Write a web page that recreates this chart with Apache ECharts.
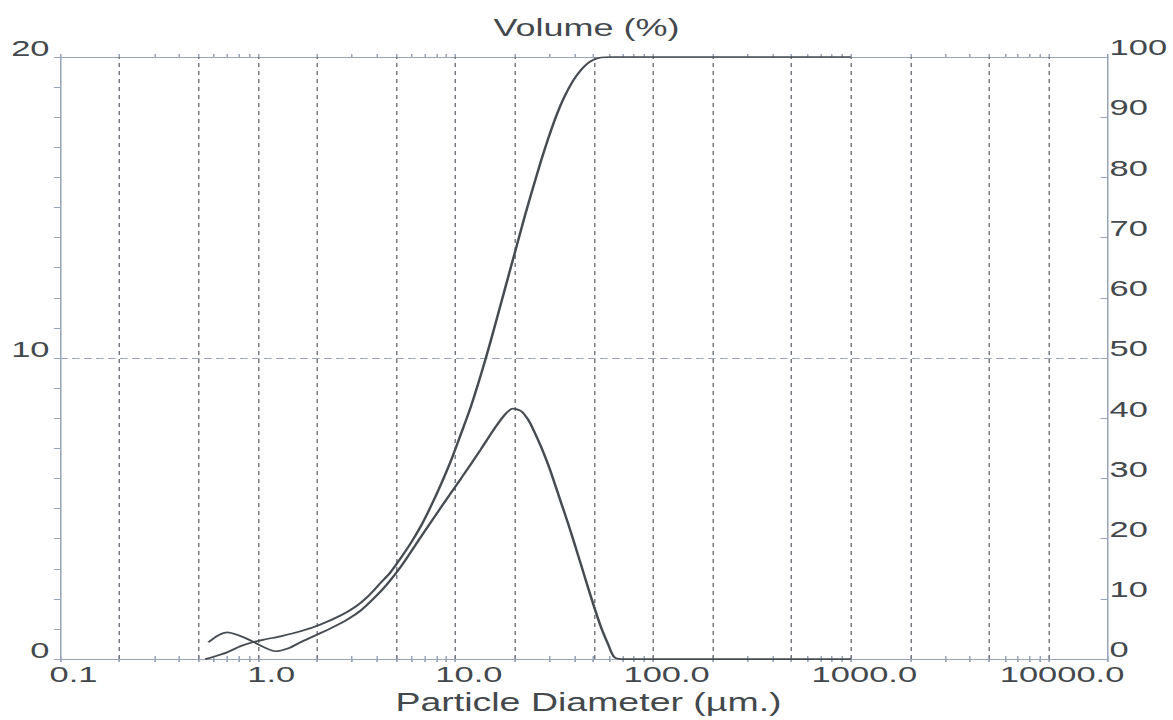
<!DOCTYPE html>
<html>
<head>
<meta charset="utf-8">
<script src="https://cdn.jsdelivr.net/npm/echarts@6/dist/echarts.min.js"></script>
<style>
  html, body { margin: 0; padding: 0; background: #fff; overflow: hidden; }
  /* the instrument print uses wide lettering: draw narrow, stretch horizontally */
  #chart { width: 782px; height: 720px; transform: scaleX(1.5); transform-origin: 0 0; }
</style>
</head>
<body>
<div id="chart"></div>
<script>
// Differential volume distribution (left axis, %)
const freqDiameter = [0.563, 0.632, 0.702, 0.798, 0.940, 1.081, 1.229, 1.431, 1.646, 1.916, 2.336, 2.849, 3.315, 3.859, 4.490, 5.288, 6.677, 8.433, 10.65, 13.45, 16.03, 18.01, 19.54, 21.45, 23.28, 24.96, 27.09, 29.40, 31.53, 34.21, 37.13, 39.82, 43.21, 46.90, 50.29, 54.58, 59.22, 63.51, 68.93, 100, 200, 500, 1000];
const freqVolume   = [0.56, 0.79, 0.89, 0.79, 0.59, 0.39, 0.26, 0.36, 0.56, 0.76, 1.02, 1.32, 1.61, 2.01, 2.47, 3.06, 4.05, 5.03, 5.99, 6.97, 7.73, 8.16, 8.32, 8.24, 7.96, 7.58, 7.06, 6.47, 5.90, 5.20, 4.51, 3.88, 3.13, 2.37, 1.74, 1.05, 0.49, 0.07, 0, 0, 0, 0, 0];

// Cumulative volume undersize (right axis, %)
const cumDiameter = [0.543, 0.610, 0.702, 0.817, 0.940, 1.094, 1.303, 1.646, 2.079, 2.626, 3.128, 3.597, 4.186, 4.706, 5.288, 5.941, 6.677, 7.504, 8.433, 9.478, 10.65, 11.97, 13.45, 15.12, 16.99, 19.09, 20.72, 22.48, 24.11, 27.09, 29.40, 32.28, 35.43, 39.36, 43.21, 46.90, 50.29, 54.58, 61.33, 100, 200, 500, 1000];
const cumVolume   = [0, 0.49, 1.15, 2.14, 2.80, 3.29, 3.78, 4.61, 5.76, 7.24, 8.72, 10.36, 12.66, 14.47, 16.78, 19.24, 22.04, 25.33, 28.95, 32.89, 37.34, 41.94, 47.20, 52.96, 59.05, 65.13, 69.41, 73.68, 77.14, 82.73, 86.35, 90.13, 93.26, 96.05, 97.86, 99.01, 99.59, 99.92, 100, 100, 100, 100, 100];

// Axis layout values
const xRange = [0.1, 20000];
const decadeLabels = [0.1, 1, 10, 100, 1000, 10000];
const gridDiameters = [0.2, 0.5, 1, 2, 5, 10, 20, 50, 100, 200, 500, 1000, 2000, 5000, 10000];
const tickMantissas = [1, 2, 3, 4, 5, 6, 7, 8, 9];
const leftRange = [0, 20];
const rightRange = [0, 100];

const lg = Math.log10;
const minorTicks = [];
for (let e = -1; e <= 3; e++) {
  tickMantissas.forEach(m => minorTicks.push(lg(m * Math.pow(10, e))));
}
minorTicks.push(lg(10000), lg(20000));

const FONT = "'Liberation Sans', Arial, sans-serif";
const TEXT = '#43484d';
const AXIS = '#98a4b8';
const CURVE = '#464c52';

function logAxis(position, opts) {
  return Object.assign({
    type: 'value',
    position: position,
    min: lg(xRange[0]),
    max: lg(xRange[1]),
    axisLine: { show: false },
    axisTick: { show: true, customValues: minorTicks, length: 3, lineStyle: { color: AXIS, width: 1 } },
    axisLabel: { show: false },
    splitLine: { show: false }
  }, opts);
}

const chart = echarts.init(document.getElementById('chart'), null, { renderer: 'svg' });

chart.setOption({
  animation: false,
  backgroundColor: '#ffffff',
  textStyle: { fontFamily: FONT },
  title: {
    text: 'Volume (%)',
    left: 'center',
    top: 10,
    textStyle: { fontFamily: FONT, fontSize: 24, fontWeight: 'normal', color: TEXT }
  },
  grid: { left: 40, right: 43.3, top: 57, bottom: 55 },
  xAxis: [
    logAxis('bottom', {
      axisLine: { show: true, onZero: false, lineStyle: { color: AXIS, width: 1 } },
      axisTick: { show: true, customValues: minorTicks, length: 3, lineStyle: { color: AXIS, width: 1 } },
      axisLabel: {
        show: true,
        customValues: decadeLabels.map(v => lg(v)),
        formatter: v => Math.pow(10, v).toFixed(1),
        fontFamily: FONT, fontSize: 23, color: TEXT,
        margin: 3, padding: [0, 0, 0, 18]
      },
      name: 'Particle Diameter (µm.)',
      nameLocation: 'middle',
      nameGap: 25,
      nameTextStyle: { fontFamily: FONT, fontSize: 25, color: TEXT, padding: [0, 0, 0, 6] }
    }),
    logAxis('bottom', { axisTick: { show: true, inside: true, customValues: minorTicks, length: 3, lineStyle: { color: AXIS, width: 1 } } }),
    logAxis('top', { axisLine: { show: true, onZero: false, lineStyle: { color: AXIS, width: 1 } } }),
    logAxis('top', { axisTick: { show: true, inside: true, customValues: minorTicks, length: 3, lineStyle: { color: AXIS, width: 1 } } })
  ],
  yAxis: [
    {
      type: 'value',
      position: 'left',
      min: leftRange[0], max: leftRange[1], interval: 1,
      axisLine: { show: true, onZero: false, lineStyle: { color: AXIS, width: 1 } },
      axisTick: { show: true, length: 4, lineStyle: { color: AXIS, width: 1 } },
      axisLabel: {
        formatter: v => (v % 10 === 0 ? String(v) : ''),
        fontFamily: FONT, fontSize: 23, color: TEXT,
        margin: 7, verticalAlign: 'bottom', lineHeight: 18
      },
      splitLine: { show: false }
    },
    {
      type: 'value',
      position: 'right',
      min: rightRange[0], max: rightRange[1], interval: 10,
      axisLine: { show: true, onZero: false, lineStyle: { color: AXIS, width: 1 } },
      axisTick: { show: true, inside: true, length: 5, lineStyle: { color: AXIS, width: 1 } },
      axisLabel: {
        fontFamily: FONT, fontSize: 23, color: TEXT,
        margin: 1, align: 'left', verticalAlign: 'bottom', lineHeight: 20
      },
      splitLine: { show: false }
    }
  ],
  series: [
    {
      name: 'Volume',
      type: 'line',
      xAxisIndex: 0,
      yAxisIndex: 0,
      data: freqDiameter.map((d, i) => [lg(d), freqVolume[i]]),
      smooth: 0.3,
      showSymbol: false,
      clip: false,
      lineStyle: { color: CURVE, width: 1.7 },
      z: 5,
      markLine: {
        silent: true,
        symbol: ['none', 'none'],
        label: { show: false },
        animation: false,
        lineStyle: { color: '#777b81', width: 1, type: [4, 4] },
        data: gridDiameters.map(d => ({ xAxis: lg(d) })).concat([
          { yAxis: 10, lineStyle: { color: '#9aa3b2', width: 1, type: [5, 3] } }
        ])
      }
    },
    {
      name: 'Cumulative',
      type: 'line',
      xAxisIndex: 0,
      yAxisIndex: 1,
      data: cumDiameter.map((d, i) => [lg(d), cumVolume[i]]),
      smooth: 0.3,
      showSymbol: false,
      clip: false,
      lineStyle: { color: CURVE, width: 1.7 },
      z: 5
    }
  ]
});
</script>
</body>
</html>
